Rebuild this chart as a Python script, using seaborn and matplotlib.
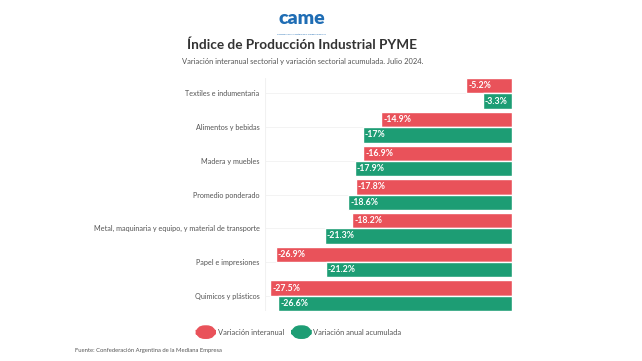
import pandas as pd
import matplotlib.pyplot as plt
import seaborn as sns
from matplotlib.patches import FancyBboxPatch

sns.set_theme(style="white")
plt.rcParams['font.family'] = ['Lato', 'DejaVu Sans']

# ============================================================
#  DATA
# ============================================================

sectores = [
    "Textiles e indumentaria",
    "Alimentos y bebidas",
    "Madera y muebles",
    "Promedio ponderado",
    "Metal, maquinaria y equipo, y material de transporte",
    "Papel e impresiones",
    "Quimicos y plásticos",
]
interanual = [-5.2, -14.9, -16.9, -17.8, -18.2, -26.9, -27.5]
acumulada  = [-3.3, -17.0, -17.9, -18.6, -21.3, -21.2, -26.6]
series     = ["Variación interanual", "Variación anual acumulada"]

RED   = "#e9525a"
GREEN = "#1d9d74"

df = pd.DataFrame({
    "sector": sectores * 2,
    "valor": interanual + acumulada,
    "serie": [series[0]] * len(sectores) + [series[1]] * len(sectores),
})

# ============================================================
#  PLOT
# ============================================================

fig = plt.figure(figsize=(6.42, 3.61), dpi=100)
ax = fig.add_axes([0.413, 0.138, 0.384, 0.646])

sns.barplot(data=df, x="valor", y="sector", hue="serie", orient="h",
            palette=[RED, GREEN], width=0.91, saturation=1, ax=ax,
            legend=False)

ax.set_xlim(-28.1, 0)
ax.set_ylim(6.46, -0.46)
ax.set_xlabel("")
ax.set_ylabel("")
ax.set_xticks([])
ax.tick_params(axis="y", length=0, pad=4, labelsize=5.2, labelcolor="#555555")
for s in ax.spines.values():
    s.set_visible(False)
for i in range(len(sectores)):
    ax.axhline(i, color="#f1f1f1", lw=0.6, zorder=0)
ax.axvline(-28.1, color="#f1f1f1", lw=0.8, zorder=0)

# value labels inside the left end of each bar
for cont in ax.containers:
    for p in cont:
        bb = p.get_bbox()
        val = p.get_width()
        ax.text(bb.xmin + 0.25, p.get_y() + p.get_height() / 2, f"{val:g}%",
                ha="left", va="center", color="white", fontsize=6.3,
                fontweight="bold", zorder=5)

# legend with pill-shaped swatches
lx, ly = 0.306, 0.08
for color, label, dx in [(RED, series[0], 0.0), (GREEN, series[1], 0.149)]:
    fig.patches.append(FancyBboxPatch(
        (lx + dx, ly - 0.017), 0.029, 0.034, transform=fig.transFigure,
        boxstyle="round,pad=0,rounding_size=0.013", color=color,
        mutation_aspect=642 / 361))
    fig.text(lx + dx + 0.033, ly, label, ha="left", va="center",
             fontsize=5.4, color="#555555")

# header
fig.text(0.47, 0.948, "came", ha="center", va="center", fontsize=14,
         fontweight="heavy", color="#1f6db4")
fig.text(0.47, 0.905, "Confederación Argentina de la Mediana Empresa",
         ha="center", va="center", fontsize=1.6, color="#1f6db4")
fig.text(0.471, 0.875, "Índice de Producción Industrial PYME", ha="center",
         va="center", fontsize=9.8, fontweight="bold", color="#333333")
fig.text(0.472, 0.831,
         "Variación interanual sectorial y variación sectorial acumulada. Julio 2024.",
         ha="center", va="center", fontsize=5.4, color="#555555")

fig.text(0.117, 0.03, "Fuente: Confederación Argentina de la Mediana Empresa",
         ha="left", va="center", fontsize=4.2, color="#555555")

fig.savefig("out.png", dpi=100, facecolor="white")
